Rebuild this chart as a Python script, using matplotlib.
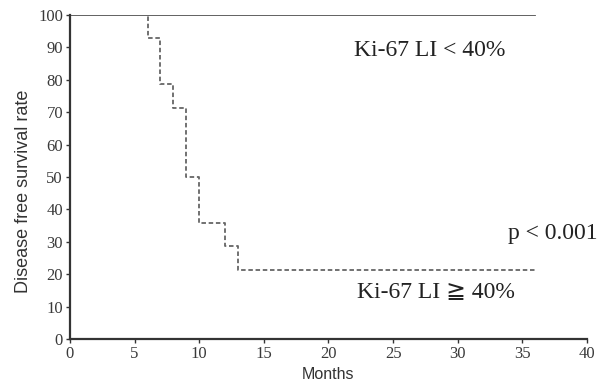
import matplotlib
matplotlib.use("Agg")
import matplotlib.pyplot as plt

# Data: Kaplan-Meier step curves
low_months = [0, 36]
low_surv = [100, 100]
high_months = [0, 6, 7, 8, 9, 10, 12, 13, 36]
high_surv = [100, 92.9, 78.6, 71.4, 50.0, 35.7, 28.6, 21.4, 21.4]
x_ticks = [0, 5, 10, 15, 20, 25, 30, 35, 40]
y_ticks = [0, 10, 20, 30, 40, 50, 60, 70, 80, 90, 100]

fig = plt.figure(figsize=(6.06, 3.85), dpi=100)
ax = fig.add_axes([0.1155, 0.1195, 0.853, 0.8415])

ax.step(low_months, low_surv, where="post", color="#555555", lw=1.3)
ax.step(high_months, high_surv, where="post", color="#666666", lw=1.3,
        linestyle=(0, (2.5, 1.5)))

ax.set_xlim(0, 40)
ax.set_ylim(0, 100)
ax.set_xticks(x_ticks)
ax.set_yticks(y_ticks)
serif = ["Liberation Serif", "DejaVu Serif", "DejaVu Sans", "Noto Sans CJK JP"]
for lab in ax.get_xticklabels() + ax.get_yticklabels():
    lab.set_family(serif)
    lab.set_fontsize(12)
    lab.set_color("#3a3a3a")
ax.tick_params(axis="both", direction="out", length=3, width=1, color="#333333", pad=2)
ax.spines["top"].set_visible(False)
ax.spines["right"].set_visible(False)
for s in ("left", "bottom"):
    ax.spines[s].set_linewidth(1.6)
    ax.spines[s].set_color("#333333")

ax.set_xlabel("Months", family="Liberation Sans", fontsize=11.5, color="#333333")
ax.set_ylabel("Disease free survival rate", family="Liberation Sans", fontsize=13,
              color="#333333")
ax.xaxis.set_label_coords(0.5, -0.085)
ax.yaxis.set_label_coords(-0.073, 0.455)

ax.text(27.8, 89, "Ki-67 LI < 40%", family=serif, fontsize=17, color="#222222",
        ha="center", va="center")
ax.text(40.8, 32.7, "p < 0.001", family=serif, fontsize=17, color="#222222",
        ha="right", va="center", clip_on=False)
ax.text(28.3, 14.2, "Ki-67 LI \u2267 40%", family=serif, fontsize=17, color="#222222",
        ha="center", va="center")

fig.savefig("out.png", dpi=100)
